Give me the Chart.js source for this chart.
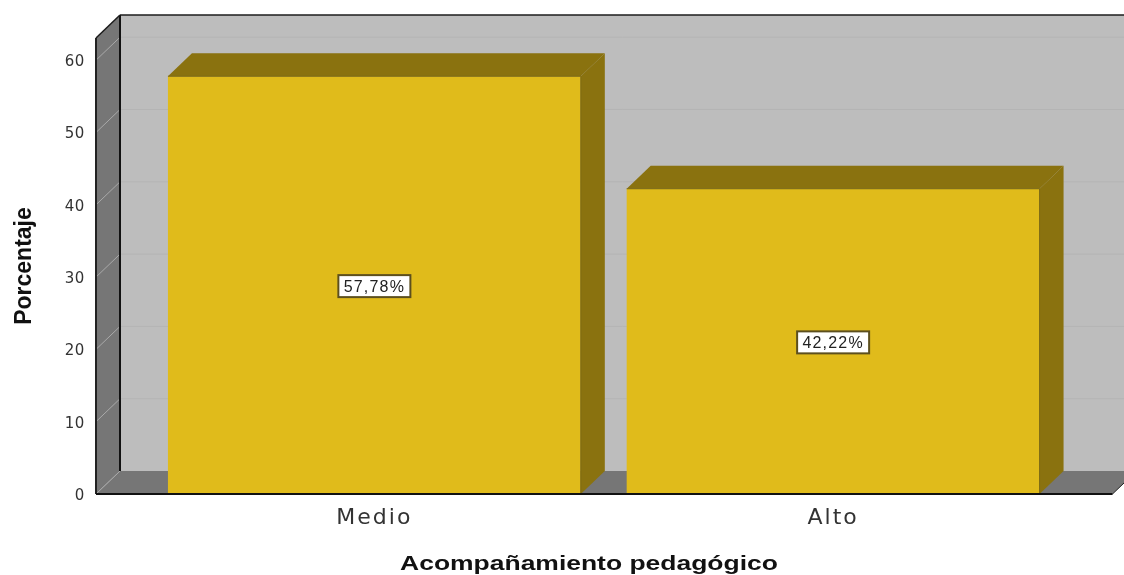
<!DOCTYPE html>
<html>
<head>
<meta charset="utf-8">
<style>html,body{margin:0;padding:0;background:#fff}#w{width:1124px;height:575px}</style>
<script src="https://cdn.jsdelivr.net/npm/chart.js@4"></script>
</head>
<body>
<div id="w"><canvas id="c" width="1124" height="575"></canvas></div>
<script>
const categories = ["Medio", "Alto"];
const percentages = [57.78, 42.22];
const valueLabels = ["57,78%", "42,22%"];
const yTicks = [0, 10, 20, 30, 40, 50, 60];
const yTitle = "Porcentaje";
const xTitle = "Acompañamiento pedagógico";

const DX = 24, DY = 23;          // 3D depth offset
const LEFT_EXT = 49, RIGHT_EXT = 50;
const WALL = "#bdbdbd", SIDE = "#767676", BAR = "#e0bb1b", BAR_DK = "#8a720f", BAR_EDGE = "#7d6a14";

function poly(ctx, pts, fill, stroke, lw) {
  ctx.beginPath();
  pts.forEach((p, i) => i ? ctx.lineTo(p[0], p[1]) : ctx.moveTo(p[0], p[1]));
  ctx.closePath();
  if (fill) { ctx.fillStyle = fill; ctx.fill(); }
  if (stroke) { ctx.strokeStyle = stroke; ctx.lineWidth = lw || 1; ctx.stroke(); }
}
function line(ctx, x1, y1, x2, y2, c, lw) {
  ctx.beginPath(); ctx.moveTo(x1, y1); ctx.lineTo(x2, y2);
  ctx.strokeStyle = c; ctx.lineWidth = lw || 1; ctx.stroke();
}

const walls3d = {
  id: "walls3d",
  beforeDatasetsDraw(chart) {
    const { ctx, chartArea: a, scales: { y } } = chart;
    const L = a.left - LEFT_EXT, R = a.right + RIGHT_EXT, T = a.top, B = a.bottom;
    ctx.save();
    poly(ctx, [[L + DX, T - DY], [R + DX, T - DY], [R + DX, B - DY], [L + DX, B - DY]], WALL);
    poly(ctx, [[L, T], [L + DX, T - DY], [L + DX, B - DY], [L, B]], SIDE);
    poly(ctx, [[L, B], [L + DX, B - DY], [R + DX, B - DY], [R, B]], SIDE);
    yTicks.forEach(v => {
      const py = y.getPixelForValue(v);
      line(ctx, L, py, L + DX, py - DY, "#a9a9a9", 1);
      if (v > 0) line(ctx, L + DX, py - DY, R + DX, py - DY, "#b4b4b4", 1);
    });
    line(ctx, L + DX, T - DY, R + DX, T - DY, "#1c1c1c", 1.5);
    line(ctx, L + DX, T - DY, L + DX, B - DY, "#111", 2);
    line(ctx, L, T, L + DX, T - DY, "#1c1c1c", 1.5);
    line(ctx, L, T, L, B, "#222", 2);
    ctx.restore();
  },
  afterDatasetsDraw(chart) {
    const { ctx, chartArea: a } = chart;
    const L = a.left - LEFT_EXT, R = a.right + RIGHT_EXT, B = a.bottom;
    ctx.save();
    chart.getDatasetMeta(0).data.forEach((b, i) => {
      const x0 = b.x - b.width / 2, x1 = b.x + b.width / 2, top = b.y;
      poly(ctx, [[x0, top], [x0 + DX, top - DY], [x1 + DX, top - DY], [x1, top]], BAR_DK);
      poly(ctx, [[x1, top], [x1 + DX, top - DY], [x1 + DX, B - DY], [x1, B]], BAR_DK);
      line(ctx, x1, top, x1, B, BAR_EDGE, 1);
      line(ctx, x0, top, x1, top, BAR_EDGE, 1);
    });
    line(ctx, L, B, R, B, "#111", 2);
    line(ctx, R, B, R + DX, B - DY, "#222", 1);
    chart.getDatasetMeta(0).data.forEach((b, i) => {
      const cy = (b.y + B) / 2 + 1;
      ctx.font = "16px 'Liberation Sans'";
      ctx.letterSpacing = "1.2px";
      const w = 72, h = 22;
      ctx.fillStyle = "#fff";
      ctx.strokeStyle = "#5c4f1e";
      ctx.lineWidth = 2;
      ctx.fillRect(b.x - w / 2, cy - h / 2, w, h);
      ctx.strokeRect(b.x - w / 2, cy - h / 2, w, h);
      ctx.fillStyle = "#222";
      ctx.textAlign = "center";
      ctx.textBaseline = "middle";
      ctx.fillText(valueLabels[i], b.x, cy + 1);
      ctx.letterSpacing = "0px";
    });
    ctx.restore();
  },
  afterDraw(chart) {
    const ctx = chart.ctx;
    ctx.save();
    ctx.translate(589, 564);
    ctx.scale(1.26, 1);
    ctx.font = "bold 21px 'Liberation Sans'";
    ctx.fillStyle = "#111";
    ctx.textAlign = "center";
    ctx.textBaseline = "middle";
    ctx.fillText(xTitle, 0, 0);
    ctx.restore();
  },
  beforeDraw(chart) {
    [["x", "2px", 0], ["y", "0.6px", 2]].forEach(([id, sp, dy]) => {
      const s = chart.scales[id];
      if (s._spaced) return;
      s._spaced = true;
      const orig = s.drawLabels;
      s.drawLabels = function (area) {
        const ctx = chart.ctx;
        ctx.save();
        ctx.letterSpacing = sp;
        ctx.translate(0, dy);
        orig.call(this, area);
        ctx.restore();
      };
    });
  }
};

new Chart(document.getElementById("c"), {
  type: "bar",
  data: {
    labels: categories,
    datasets: [{
      data: percentages,
      backgroundColor: BAR,
      borderWidth: 0,
      categoryPercentage: 1,
      barPercentage: 0.9
    }]
  },
  options: {
    responsive: false,
    animation: false,
    layout: { padding: { top: 38, right: 61.5, bottom: 0, left: 0 } },
    plugins: { legend: { display: false }, tooltip: { enabled: false }, title: { display: false } },
    scales: {
      x: {
        grid: { display: false, drawTicks: false },
        border: { display: false },
        ticks: { font: { family: "'DejaVu Sans'", size: 22 }, color: "#333", padding: 11, maxRotation: 0 },
        afterFit(s) { s.height = 81; s.paddingLeft = 0; s.paddingRight = 0; }
      },
      y: {
        min: 0,
        max: 63.07,
        grid: { display: false, drawTicks: false },
        border: { display: false },
        afterBuildTicks(s) { s.ticks = yTicks.map(v => ({ value: v })); },
        ticks: { font: { family: "'DejaVu Sans'", size: 15 }, color: "#333", padding: 60 },
        title: {
          display: true, text: yTitle, color: "#111",
          font: { family: "'Liberation Sans'", weight: "bold", size: 23 },
          padding: { top: 11, bottom: 0 }
        },
        afterFit(s) { s.width = 145; s.paddingTop = 0; s.paddingBottom = 0; }
      }
    }
  },
  plugins: [walls3d]
});
</script>
</body>
</html>
